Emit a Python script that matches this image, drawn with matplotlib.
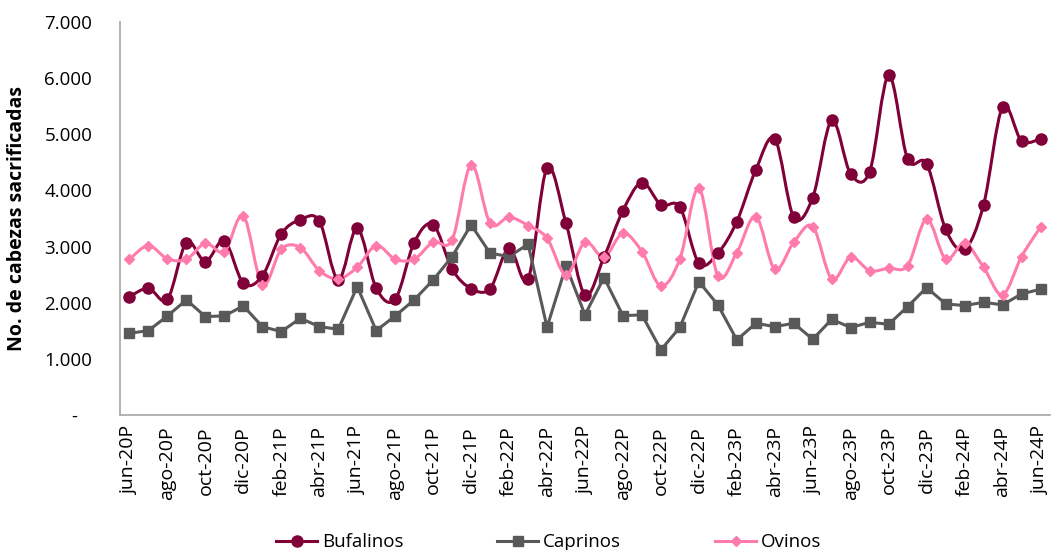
import numpy as np
import matplotlib
matplotlib.use("Agg")
from matplotlib import pyplot as plt
from matplotlib.path import Path
from matplotlib.patches import PathPatch
from matplotlib.lines import Line2D
from matplotlib.ticker import FuncFormatter

plt.rcParams['font.family'] = ['Open Sans', 'DejaVu Sans']

meses = ['ene', 'feb', 'mar', 'abr', 'may', 'jun', 'jul', 'ago', 'sep', 'oct', 'nov', 'dic']
etiquetas = []
for k in range(49):
    m = (5 + k) % 12
    a = 20 + (5 + k) // 12
    etiquetas.append(meses[m] + '-' + str(a) + 'P')

bufalinos = [2109, 2258, 2062, 3072, 2733, 3102, 2347, 2478, 3226, 3476,
             3458, 2406, 3328, 2258, 2062, 3072, 3393, 2597, 2252, 2252,
             2971, 2418, 4397, 3417, 2139, 2811, 3642, 4141, 3743, 3702,
             2704, 2882, 3446, 4367, 4920, 3524, 3874, 5247, 4290, 4337,
             6049, 4557, 4474, 3310, 2953, 3743, 5484, 4884, 4920]
caprinos = [1456, 1503, 1765, 2050, 1753, 1765, 1943, 1574, 1485, 1723,
            1574, 1527, 2287, 1503, 1765, 2050, 2406, 2822, 3387, 2882,
            2822, 3043, 1563, 2656, 1783, 2448, 1770, 1783, 1159, 1563,
            2377, 1961, 1337, 1634, 1574, 1634, 1349, 1705, 1557, 1652,
            1616, 1931, 2270, 1979, 1949, 2008, 1961, 2157, 2240]
ovinos = [2775, 3018, 2781, 2775, 3060, 2911, 3547, 2317, 2953, 2982,
          2572, 2424, 2632, 3018, 2775, 2775, 3080, 3119, 4456, 3417,
          3524, 3375, 3149, 2496, 3078, 2811, 3238, 2911, 2299, 2781,
          4041, 2478, 2893, 3535, 2597, 3078, 3357, 2424, 2811, 2572,
          2615, 2661, 3488, 2781, 3060, 2632, 2139, 2822, 3346]

c_buf = '#800038'
c_cap = '#595959'
c_ovi = '#FF7BAC'


def curva_suave(x, y):
    # bezier tipo excel (catmull-rom)
    p = np.column_stack([x, y]).astype(float)
    verts = [p[0]]
    codes = [Path.MOVETO]
    n = len(p)
    for i in range(n - 1):
        p0 = p[i - 1] if i > 0 else p[i]
        p3 = p[i + 2] if i + 2 < n else p[i + 1]
        c1 = p[i] + (p[i + 1] - p0) / 6.0
        c2 = p[i + 1] - (p3 - p[i]) / 6.0
        verts += [c1, c2, p[i + 1]]
        codes += [Path.CURVE4] * 3
    return Path(verts, codes)


fig = plt.figure(figsize=(10.55, 5.5), dpi=100)
ax = fig.add_axes([120 / 1055, 1 - 415 / 550, 930 / 1055, 393 / 550])

x = np.arange(len(etiquetas))

ax.add_patch(PathPatch(curva_suave(x, bufalinos), fill=False, edgecolor=c_buf, lw=2.2, zorder=3))
ax.plot(x, bufalinos, ls='none', marker='o', ms=8, color=c_buf, zorder=4)

ax.plot(x, caprinos, color=c_cap, lw=2.2, marker='s', ms=6.5, zorder=3)

ax.add_patch(PathPatch(curva_suave(x, ovinos), fill=False, edgecolor=c_ovi, lw=2.2, zorder=3))
ax.plot(x, ovinos, ls='none', marker='D', ms=5.5, color=c_ovi, zorder=4)

ax.set_xlim(-0.5, 48.5)
ax.set_ylim(0, 7000)
ax.set_yticks(np.arange(0, 7001, 1000))
ax.yaxis.set_major_formatter(FuncFormatter(
    lambda v, p: '-   ' if v == 0 else '{:,.0f}'.format(v).replace(',', '.')))
ax.set_xticks(x[::2])
ax.set_xticklabels(etiquetas[::2], rotation=90)
ax.tick_params(axis='y', length=0, pad=20, labelsize=13.5, colors='black')
ax.tick_params(axis='x', length=0, pad=8, labelsize=14, colors='black')

for s in ['top', 'right']:
    ax.spines[s].set_visible(False)
for s in ['left', 'bottom']:
    ax.spines[s].set_color('#A6A6A6')
    ax.spines[s].set_linewidth(1.2)

ax.set_ylabel('No. de cabezas sacrificadas', fontsize=14, fontweight='bold')
ax.yaxis.set_label_coords(-93 / 930, 0.5)

handles = [
    Line2D([], [], color=c_buf, lw=2.2, marker='o', ms=8),
    Line2D([], [], color=c_cap, lw=2.2, marker='s', ms=6.5),
    Line2D([], [], color=c_ovi, lw=2.2, marker='D', ms=5.5),
]
fig.legend(handles, ['Bufalinos', 'Caprinos', 'Ovinos'], loc='center',
           bbox_to_anchor=(0.52, 0.014), ncol=3, frameon=False, fontsize=13.5,
           handlelength=2.2, columnspacing=5.0, handletextpad=0.25)

fig.savefig('out.png', dpi=100)
